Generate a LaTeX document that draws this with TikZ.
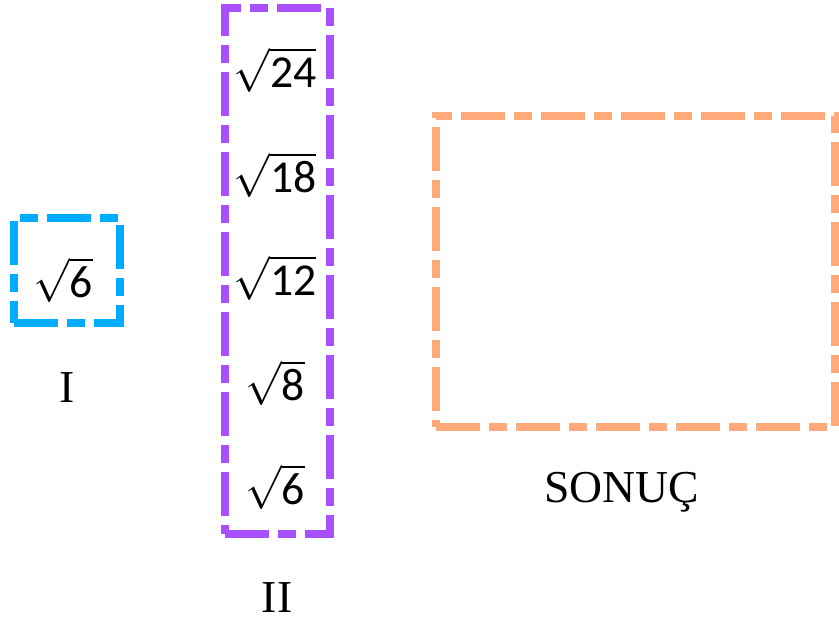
\documentclass[tikz,border=0pt]{standalone}
\usepackage{fontspec}
\setmainfont{Liberation Serif}
\newfontfamily\rootfont{Carlito}
\newcommand{\rootof}[1]{$\sqrt{\mbox{\rootfont #1}}$}
\definecolor{boxblue}{RGB}{0,172,255}
\definecolor{boxpurple}{RGB}{168,80,255}
\definecolor{boxorange}{RGB}{255,170,122}
\begin{document}
\begin{tikzpicture}[
      x=0.02cm, y=-0.02cm,
      every node/.style={font=\fontsize{26}{30}\selectfont, inner sep=0pt},
      frame/.style={draw, line width=0.16cm, rectangle,
        dash pattern=on 0.88cm off 0.18cm on 0.36cm off 0.18cm},
      root/.style={font=\fontsize{26}{30}\selectfont},
    ]
      \useasboundingbox (0,0) rectangle (839,624);
      % box I
      \node[frame, boxblue, minimum width=2.12cm, minimum height=2.1cm] (boxI) at (67,270.5) {};
      \node[root] (rI) at (63,280) {\rootof{6}};
      \node (labI) at (67,388) {I};
      % box II
      \node[frame, boxpurple, minimum width=2.1cm, minimum height=10.52cm] (boxII) at (277.5,271) {};
      \node[root] (r24) at (275,70) {\rootof{24}};
      \node[root] (r18) at (275,175) {\rootof{18}};
      \node[root] (r12) at (275,278) {\rootof{12}};
      \node[root] (r8) at (275,383) {\rootof{8}};
      \node[root] (r6) at (275,487) {\rootof{6}};
      \node (labII) at (277,598) {II};
      % result
      \node[frame, boxorange, minimum width=7.98cm, minimum height=6.22cm] (boxR) at (635.5,271.5) {};
      \node (labR) at (622,492) {SONUÇ};
    \end{tikzpicture}
\end{document}
